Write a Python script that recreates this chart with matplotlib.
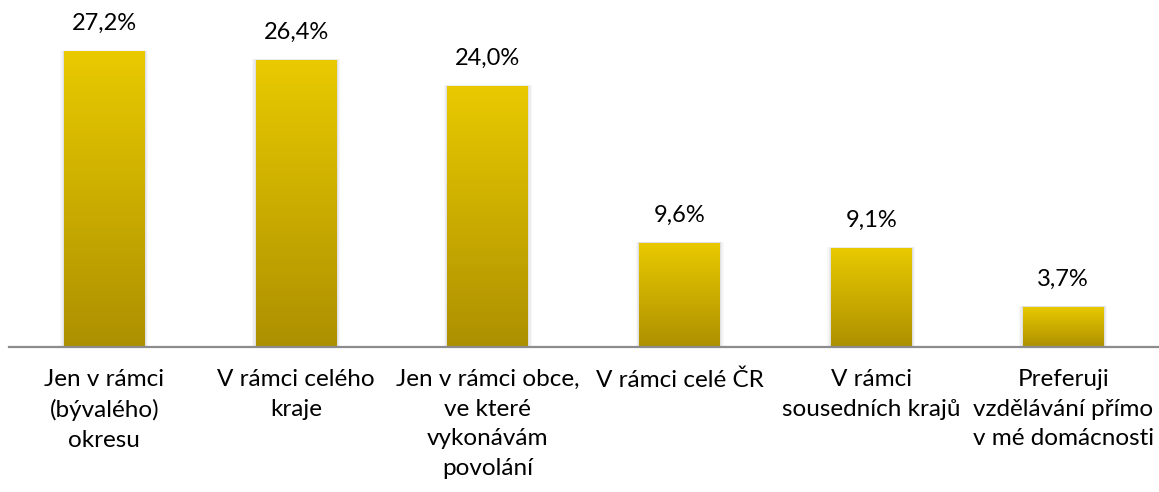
import matplotlib
matplotlib.use("Agg")
import matplotlib.pyplot as plt
import numpy as np
from matplotlib.colors import LinearSegmentedColormap

categories = ["Jen v rámci\n(bývalého)\nokresu", "V rámci celého\nkraje",
              "Jen v rámci obce,\nve které\nvykonávám\npovolání", "V rámci celé ČR",
              "V rámci\nsousedních krajů", "Preferuji\nvzdělávání přímo\nv mé domácnosti"]
values = [27.2, 26.4, 24.0, 9.6, 9.1, 3.7]
value_labels = ["27,2%", "26,4%", "24,0%", "9,6%", "9,1%", "3,7%"]

plt.rcParams['font.family'] = ['Lato', 'DejaVu Sans']

W, H = 1159, 492
fig = plt.figure(figsize=(W/100, H/100), dpi=100)
ax = fig.add_axes([8.5/W, (H-347)/H, (W-8.5)/W, 347/H])
ymax = 347/10.88
ax.set_xlim(-0.5, 5.5)
ax.set_ylim(0, ymax)

cmap = LinearSegmentedColormap.from_list("g", ["#AD9000", "#E9CA00"])
grad = np.linspace(0, 1, 256).reshape(-1, 1)
x = np.arange(len(values))
bw = 0.422
bars = ax.bar(x, values, width=bw, color="none", edgecolor="none", zorder=3)
for b in bars:
    for k, a in enumerate([0.05, 0.04, 0.03]):
        d = 0.006 * (k + 1)
        ax.add_patch(plt.Rectangle((b.get_x() - d, -0.3), b.get_width() + 2*d,
                                   b.get_height() + 0.3 + d*4, color="#000000",
                                   alpha=a, lw=0, zorder=2))
    im = ax.imshow(grad, extent=[b.get_x(), b.get_x() + b.get_width(), 0, b.get_height()],
                   origin="lower", aspect="auto", cmap=cmap, zorder=3)
    im.set_clip_path(b)

for xi, v, lab in zip(x, values, value_labels):
    ax.annotate(lab, (xi, v), xytext=(0, 17), textcoords="offset pixels",
                ha="center", va="bottom", fontsize=17, color="#000000")

ax.set_xticks(x)
ax.set_xticklabels(categories, fontsize=17.5, linespacing=1.50, va="top")
ax.tick_params(axis="x", length=0, pad=16)
ax.set_yticks([])
for s in ["top", "right", "left"]:
    ax.spines[s].set_visible(False)
ax.spines["bottom"].set_color("#8C8C8C")
ax.spines["bottom"].set_linewidth(1.6)
ax.spines["bottom"].set_zorder(5)

fig.savefig("out.png", dpi=100)
